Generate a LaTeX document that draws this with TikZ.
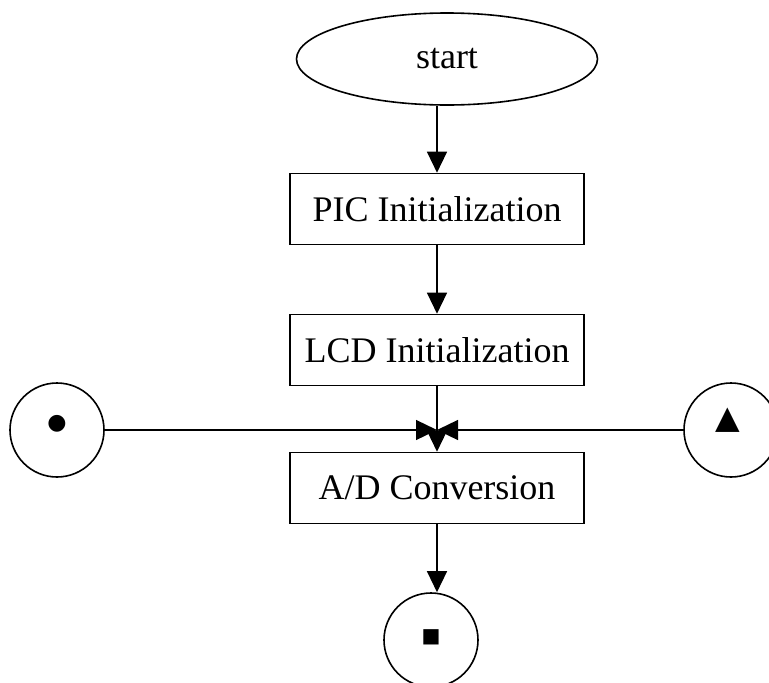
\documentclass[tikz,border=0pt]{standalone}
\usepackage{fontspec}
\setmainfont{Liberation Serif}
\newfontfamily\symfont{DejaVu Sans}
\usetikzlibrary{shapes.geometric,arrows.meta}
\begin{document}
\begin{tikzpicture}[x=1pt,y=-1pt,
  box/.style={draw,line width=1.6pt,minimum width=294pt,minimum height=71pt,inner sep=0pt,font=\fontsize{36}{40}\selectfont},
  term/.style={draw,ellipse,line width=1.6pt,minimum width=301pt,minimum height=92pt,inner sep=0pt,font=\fontsize{36}{40}\selectfont},
  conn/.style={draw,circle,line width=1.6pt,minimum size=94pt,inner sep=0pt},
  sym/.style={inner sep=0pt,font=\symfont\fontsize{22}{22}\selectfont},
  arr/.style={line width=1.3pt,-{Triangle[length=21pt,width=20pt]}},
  ln/.style={line width=1.3pt}]
\useasboundingbox (0,0) rectangle (769,683);
\node[term] (start) at (447,59) {start};
\node[box] (pic) at (437,209) {PIC Initialization};
\node[box] (lcd) at (437,350) {LCD Initialization};
\node[box] (ad) at (437,488) {A/D Conversion};
\node[conn] (c1) at (57,430) {};
\node[conn] (c2) at (731,430) {};
\node[conn] (c3) at (431,640) {};
\node[sym] (s1) at (57,424) {●};
\node[sym,font=\symfont\fontsize{32}{32}\selectfont] (s2) at (728,420) {▲};
\node[sym,font=\symfont\fontsize{20}{20}\selectfont] (s3) at (431,637) {■};
\coordinate (j) at (437,430);
\draw[arr] (pic.north |- start.south) -- (pic.north);
\draw[arr] (pic) -- (lcd);
\draw[arr] (lcd) -- (ad);
\draw[arr] (c1) -- (j);
\draw[arr] (c2) -- (j);
\draw[arr] (ad.south) -- (ad.south |- c3.north);
\end{tikzpicture}
\end{document}
